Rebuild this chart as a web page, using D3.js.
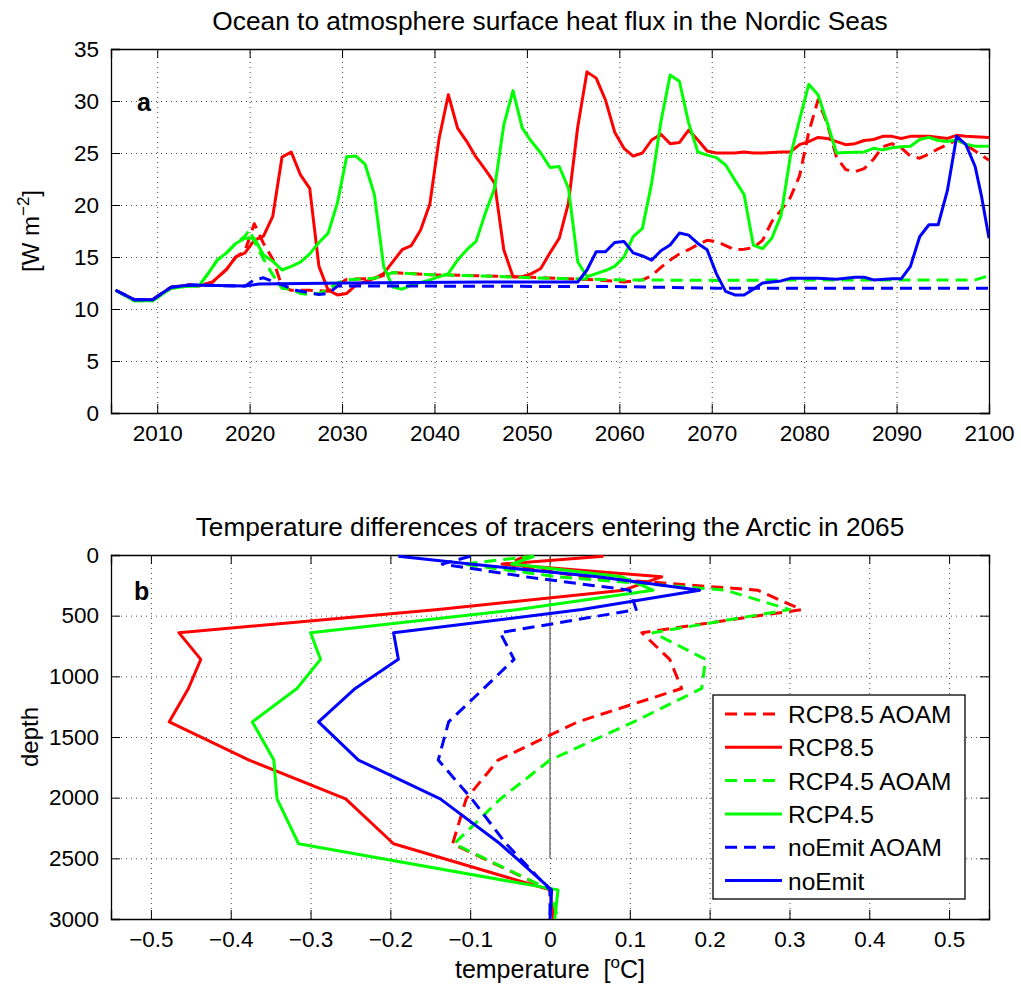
<!DOCTYPE html>
<html>
<head>
<meta charset="utf-8">
<script src="https://cdn.jsdelivr.net/npm/d3@7"></script>
<style>
    body { margin: 0; background: #fff; }
    svg text { font-family: "Liberation Sans", Arial, Helvetica, sans-serif; fill: #000; }
</style>
</head>
<body>
<svg id="paper"></svg>
<script>
// panel a: surface heat flux [year, W m-2]
var rcp85AoamFlux = [[2005.5, 11.8], [2007.5, 10.9], [2009.5, 10.9], [2011.5, 12.1], [2013.5, 12.3], [2014.5, 12.2], [2016, 12.6], [2017.5, 13.8], [2018.5, 15.0], [2019.5, 15.6], [2020.5, 18.2], [2021.5, 16.3], [2022.5, 14.8], [2023.5, 12.2], [2024.5, 11.8], [2026.5, 11.8], [2028.5, 11.7], [2029.5, 12.3], [2030.5, 12.85], [2033.5, 12.95], [2035.5, 13.5], [2039.5, 13.3], [2044.5, 13.2], [2050.5, 13.05], [2053.5, 12.95], [2057.5, 12.8], [2060.5, 12.6], [2062.5, 12.8], [2063.5, 13.2], [2064.5, 14.0], [2065.5, 14.7], [2066.5, 15.3], [2067.5, 15.7], [2068.5, 16.2], [2069.5, 16.6], [2070.5, 16.5], [2071.5, 16.1], [2072.5, 15.7], [2073.5, 15.75], [2074.5, 15.9], [2075.5, 16.6], [2076.5, 18.4], [2077.5, 19.5], [2078.5, 20.7], [2079.5, 22.8], [2080.5, 27.0], [2081.5, 30.1], [2082.5, 27.8], [2083.5, 24.6], [2084.5, 23.4], [2085.5, 23.2], [2086.5, 23.5], [2087.5, 24.4], [2088.5, 25.6], [2089.5, 25.9], [2090.5, 25.5], [2091.5, 24.7], [2092.5, 24.5], [2093.5, 24.9], [2094.5, 25.4], [2095.5, 25.8], [2096.5, 26.25], [2097.5, 25.8], [2098.5, 25.2], [2100, 24.3]];
var rcp85Flux = [[2005.5, 11.8], [2007.5, 10.9], [2009.5, 10.9], [2011.5, 12.1], [2013.5, 12.3], [2014.5, 12.2], [2016, 12.6], [2017.5, 13.8], [2018.5, 15.0], [2019.5, 15.4], [2020.5, 16.6], [2021.5, 17.0], [2022.5, 18.9], [2023.5, 24.6], [2024.5, 25.1], [2025.5, 22.9], [2026.5, 21.6], [2027.5, 14.1], [2028.5, 11.8], [2029.5, 11.35], [2030.5, 11.5], [2031.5, 12.3], [2033.5, 12.95], [2034.5, 13.4], [2036.5, 15.7], [2037.5, 16.1], [2038.5, 17.6], [2039.5, 20.1], [2040.5, 26.4], [2041.5, 30.6], [2042.5, 27.4], [2043.5, 26.1], [2044.5, 24.6], [2045.5, 23.4], [2046.5, 22.1], [2047.5, 15.7], [2048.5, 13.1], [2049.5, 13.1], [2050.5, 13.4], [2051.5, 13.9], [2052.5, 15.4], [2053.5, 16.8], [2054.5, 20.2], [2055.5, 27.5], [2056.5, 32.8], [2057.5, 32.2], [2058.5, 30.1], [2059.5, 27.0], [2060.5, 25.45], [2061.5, 24.7], [2062.5, 25.0], [2063.5, 26.25], [2064.5, 26.8], [2065.5, 25.9], [2066.5, 26.0], [2067.5, 27.2], [2068.5, 26.25], [2069.5, 25.2], [2070.5, 25.0], [2072.5, 25.0], [2073.5, 25.1], [2074.5, 25.0], [2075.5, 25.0], [2077.5, 25.1], [2078.5, 25.1], [2079.5, 25.8], [2080.5, 26.1], [2081.5, 26.5], [2082.5, 26.4], [2083.5, 26.1], [2084.5, 25.8], [2085.5, 25.9], [2086.5, 26.2], [2087.5, 26.3], [2088.5, 26.6], [2089.5, 26.6], [2090.5, 26.4], [2091.5, 26.6], [2093.5, 26.6], [2095.5, 26.4], [2096.5, 26.7], [2097.5, 26.6], [2100, 26.5]];
var rcp45AoamFlux = [[2005.5, 11.8], [2007.5, 10.8], [2009.5, 10.8], [2011.5, 12.0], [2013.5, 12.2], [2014.5, 12.2], [2015.5, 13.4], [2016.5, 14.7], [2017.5, 15.4], [2018.5, 16.3], [2019.5, 17.0], [2020, 17.6], [2020.5, 16.5], [2021.5, 14.8], [2022.5, 13.3], [2023.5, 12.0], [2024.5, 11.9], [2025.5, 11.5], [2026.5, 11.4], [2027.5, 11.5], [2028.5, 11.9], [2029.5, 12.5], [2030.5, 12.8], [2033.5, 12.95], [2035.5, 13.5], [2039.5, 13.3], [2044.5, 13.2], [2050.5, 13.0], [2055.5, 12.9], [2060.5, 12.8], [2070.5, 12.75], [2080.5, 12.8], [2090.5, 12.8], [2098.5, 12.8], [2100, 13.2]];
var rcp45Flux = [[2005.5, 11.8], [2007.5, 10.8], [2009.5, 10.8], [2011.5, 12.0], [2013.5, 12.2], [2014.5, 12.2], [2015.5, 13.4], [2016.5, 14.7], [2017.5, 15.4], [2018.5, 16.3], [2019.5, 16.8], [2020.5, 16.8], [2021.5, 15.2], [2022.5, 14.6], [2023.5, 13.75], [2024.5, 14.1], [2025.5, 14.5], [2026.5, 15.3], [2027.5, 16.4], [2028.5, 17.3], [2029.5, 20.2], [2030.5, 24.65], [2031.5, 24.7], [2032.5, 23.9], [2033.5, 21.0], [2034.5, 14.1], [2035.5, 12.1], [2036.5, 11.9], [2037.5, 12.3], [2039.5, 12.8], [2041.5, 13.4], [2042.5, 14.7], [2043.5, 15.7], [2044.5, 16.5], [2045.5, 19.2], [2046.5, 21.6], [2047.5, 27.7], [2048.5, 31.0], [2049.5, 27.4], [2050.5, 26.1], [2051.5, 25.0], [2052.5, 23.6], [2053.5, 23.7], [2054.5, 21.6], [2055.5, 14.55], [2056.5, 13.1], [2057.5, 13.4], [2058.5, 13.7], [2059.5, 14.1], [2060.5, 15.0], [2061.5, 16.95], [2062.5, 17.75], [2063.5, 22.1], [2064.5, 28.0], [2065.5, 32.5], [2066.5, 31.9], [2067.5, 27.9], [2068.5, 25.1], [2069.5, 24.8], [2070.5, 24.55], [2071.5, 23.85], [2072.5, 22.4], [2073.5, 21.0], [2074.5, 16.15], [2075.5, 15.8], [2076.5, 16.8], [2077.5, 19.0], [2078.5, 24.65], [2079.5, 28.2], [2080.5, 31.6], [2081.5, 30.6], [2082.5, 27.9], [2083.5, 25.0], [2084.5, 25.05], [2086.5, 25.1], [2087.5, 25.45], [2088.5, 25.3], [2089.5, 25.5], [2090.5, 25.6], [2091.5, 25.65], [2092.5, 26.3], [2093.5, 26.5], [2094.5, 26.2], [2095.5, 26.1], [2096.5, 26.25], [2097.5, 25.85], [2098.5, 25.65], [2100, 25.65]];
var noEmitAoamFlux = [[2005.5, 11.8], [2007.5, 10.9], [2009.5, 10.9], [2011.5, 12.1], [2013.5, 12.3], [2014.5, 12.3], [2019.5, 12.2], [2020.5, 12.8], [2021.5, 13.0], [2023, 12.5], [2025, 11.8], [2027.5, 11.4], [2028.5, 11.5], [2029.5, 12.2], [2040.5, 12.2], [2060.5, 12.15], [2070.5, 12.0], [2100, 12.0]];
var noEmitFlux = [[2005.5, 11.8], [2007.5, 10.9], [2009.5, 10.9], [2011.5, 12.1], [2013.5, 12.3], [2019.5, 12.2], [2021, 12.4], [2030.5, 12.5], [2045.5, 12.6], [2055.5, 12.6], [2056.5, 13.75], [2057.5, 15.5], [2058.5, 15.5], [2059.5, 16.4], [2060.5, 16.5], [2061.5, 15.4], [2062.5, 15.1], [2063.5, 14.7], [2064.5, 15.6], [2065.5, 16.15], [2066.5, 17.3], [2067.5, 17.1], [2068.5, 16.3], [2069.5, 15.7], [2070.5, 13.4], [2071.5, 11.7], [2072.5, 11.35], [2073.5, 11.35], [2074.5, 11.9], [2075.5, 12.5], [2077.5, 12.7], [2078.5, 12.95], [2081.5, 12.95], [2083.5, 12.85], [2085.5, 13.05], [2086.5, 13.05], [2087.5, 12.8], [2089.5, 12.9], [2090.5, 12.9], [2091.5, 14.1], [2092.5, 16.95], [2093.5, 18.1], [2094.5, 18.1], [2095.5, 21.4], [2096.5, 26.6], [2097.5, 25.8], [2098.5, 23.7], [2099.2, 20.8], [2100, 16.8]];

// panel b: temperature difference profiles [degC] at these depths [m]
var depthLevels = [10, 75, 180, 290, 450, 640, 860, 1100, 1375, 1690, 2010, 2380, 2760, 3000];
var rcp85AoamTemp = [-0.03, -0.055, 0.04, 0.26, 0.315, 0.115, 0.15, 0.165, 0.035, -0.065, -0.105, -0.122, 0.0, 0.004];
var rcp85Temp = [0.067, -0.06, 0.14, 0.092, -0.14, -0.465, -0.4375, -0.453, -0.477, -0.377, -0.256, -0.196, 0.0, 0.004];
var rcp45AoamTemp = [-0.02, -0.11, 0.01, 0.22, 0.3, 0.129, 0.195, 0.19, 0.105, 0.0, -0.062, -0.12, 0.0, 0.01];
var rcp45Temp = [-0.02, -0.048, 0.09, 0.129, -0.04, -0.3, -0.2875, -0.317, -0.373, -0.346, -0.342, -0.315, 0.01, 0.006];
var noEmitAoamTemp = [-0.1, -0.135, -0.03, 0.1, 0.108, -0.0625, -0.045, -0.083, -0.127, -0.14, -0.098, -0.055, 0.0, 0.0];
var noEmitTemp = [-0.19, -0.1, 0.06, 0.1875, 0.04, -0.196, -0.19, -0.244, -0.29, -0.24, -0.1375, -0.0625, 0.002, 0.0];

var seriesNames = ["RCP8.5 AOAM", "RCP8.5", "RCP4.5 AOAM", "RCP4.5", "noEmit AOAM", "noEmit"];
var yearTicks = [2010, 2020, 2030, 2040, 2050, 2060, 2070, 2080, 2090, 2100];
var fluxTicks = [0, 5, 10, 15, 20, 25, 30, 35];
var tempTicks = [-0.5, -0.4, -0.3, -0.2, -0.1, 0, 0.1, 0.2, 0.3, 0.4, 0.5];
var depthTicks = [0, 500, 1000, 1500, 2000, 2500, 3000];

(function () {
    var width = 1021,
        height = 992;

    var svg = d3.select('#paper')
        .attr('width', width)
        .attr('height', height);

    var colors = ["#ff0000", "#ff0000", "#00ff00", "#00ff00", "#0000ff", "#0000ff"];
    var dashed = [true, false, true, false, true, false];
    var dash = "12,7";
    var tickFont = 22.5;

    // frame with dotted grid, inward ticks on all four sides
    function frame(x, y, xTicks, yTicks, xFmt, yFmt) {
        var x0 = x.range()[0], x1 = x.range()[1],
            yTop = d3.min(y.range()), yBot = d3.max(y.range());
        var g = svg.append("g");

        g.append("g")
            .attr("transform", "translate(0," + yBot + ")")
            .call(d3.axisBottom(x).tickValues(xTicks).tickSize(-(yBot - yTop)).tickFormat(""))
            .call(function (a) { a.select(".domain").remove(); })
            .selectAll("line").attr("stroke", "#444").attr("stroke-dasharray", "1,4");
        g.append("g")
            .attr("transform", "translate(" + x0 + ",0)")
            .call(d3.axisLeft(y).tickValues(yTicks).tickSize(-(x1 - x0)).tickFormat(""))
            .call(function (a) { a.select(".domain").remove(); })
            .selectAll("line").attr("stroke", "#444").attr("stroke-dasharray", "1,4");

        g.append("g")
            .attr("transform", "translate(0," + yBot + ")")
            .call(d3.axisBottom(x).tickValues(xTicks).tickSize(-9).tickPadding(12).tickFormat(xFmt));
        g.append("g")
            .attr("transform", "translate(0," + yTop + ")")
            .call(d3.axisTop(x).tickValues(xTicks).tickSize(-9).tickFormat(""));
        g.append("g")
            .attr("transform", "translate(" + x0 + ",0)")
            .call(d3.axisLeft(y).tickValues(yTicks).tickSize(-9).tickPadding(12).tickFormat(yFmt));
        g.append("g")
            .attr("transform", "translate(" + x1 + ",0)")
            .call(d3.axisRight(y).tickValues(yTicks).tickSize(-9).tickFormat(""));

        g.selectAll(".domain").attr("stroke", "#000").attr("stroke-width", 1.3);
        g.selectAll(".tick text").attr("font-size", tickFont).attr("fill", "#000")
            .attr("font-family", "'Liberation Sans', Arial, sans-serif");
        return g;
    }

    // ---- panel a ----
    var xa = d3.scaleLinear().domain([2005, 2100]).range([111, 989]);
    var ya = d3.scaleLinear().domain([0, 35]).range([413, 49]);
    frame(xa, ya, yearTicks, fluxTicks, d3.format("d"), d3.format("d"));

    svg.append("defs").append("clipPath").attr("id", "clipA")
        .append("rect").attr("x", 111).attr("y", 49).attr("width", 878).attr("height", 364);

    var fluxSeries = [rcp85AoamFlux, rcp85Flux, rcp45AoamFlux, rcp45Flux, noEmitAoamFlux, noEmitFlux];
    var lineA = d3.line()
        .x(function (d) { return xa(d[0]); })
        .y(function (d) { return ya(d[1]); });

    svg.append("g").attr("clip-path", "url(#clipA)")
        .selectAll("path")
        .data(fluxSeries)
        .enter().append("path")
        .attr("d", lineA)
        .attr("fill", "none")
        .attr("stroke", function (d, i) { return colors[i]; })
        .attr("stroke-width", 3)
        .attr("stroke-linejoin", "round")
        .attr("stroke-dasharray", function (d, i) { return dashed[i] ? dash : null; });

    svg.append("text").attr("x", 550).attr("y", 30).attr("text-anchor", "middle")
        .attr("font-size", 26.3).text("Ocean to atmosphere surface heat flux in the Nordic Seas");
    svg.append("text").attr("x", 137).attr("y", 111).attr("font-size", 25)
        .attr("font-weight", "bold").text("a");

    var ylabA = svg.append("text").attr("transform", "translate(39,231) rotate(-90)")
        .attr("text-anchor", "middle").attr("font-size", 24);
    ylabA.append("tspan").text("[W m");
    ylabA.append("tspan").attr("dy", -10).attr("font-size", 17).text("\u22122");
    ylabA.append("tspan").attr("dy", 10).text("]");

    // ---- panel b ----
    var xb = d3.scaleLinear().domain([-0.55, 0.55]).range([111, 989]);
    var yb = d3.scaleLinear().domain([0, 3000]).range([555, 919]);
    frame(xb, yb, tempTicks, depthTicks,
        function (d) { return d === 0 ? "0" : d3.format(".1f")(d); }, d3.format("d"));

    svg.append("line")
        .attr("x1", xb(0)).attr("x2", xb(0))
        .attr("y1", yb(0)).attr("y2", yb(2500))
        .attr("stroke", "#666").attr("stroke-width", 1.3);

    var tempSeries = [rcp85AoamTemp, rcp85Temp, rcp45AoamTemp, rcp45Temp, noEmitAoamTemp, noEmitTemp];
    var lineB = d3.line()
        .x(function (d) { return xb(d); })
        .y(function (d, i) { return yb(depthLevels[i]); });

    svg.append("g")
        .selectAll("path")
        .data(tempSeries)
        .enter().append("path")
        .attr("d", lineB)
        .attr("fill", "none")
        .attr("stroke", function (d, i) { return colors[i]; })
        .attr("stroke-width", 3)
        .attr("stroke-linejoin", "round")
        .attr("stroke-dasharray", function (d, i) { return dashed[i] ? dash : null; });

    svg.append("text").attr("x", 550).attr("y", 536).attr("text-anchor", "middle")
        .attr("font-size", 26.2).text("Temperature differences of tracers entering the Arctic in 2065");
    svg.append("text").attr("x", 134).attr("y", 600).attr("font-size", 25)
        .attr("font-weight", "bold").text("b");

    svg.append("text").attr("transform", "translate(38,737) rotate(-90)")
        .attr("text-anchor", "middle").attr("font-size", 24).text("depth");

    var xlabB = svg.append("text").attr("x", 550).attr("y", 978)
        .attr("text-anchor", "middle").attr("font-size", 25)
        .style("white-space", "pre");
    xlabB.append("tspan").text("temperature  [");
    xlabB.append("tspan").attr("dy", -10).attr("font-size", 17).text("o");
    xlabB.append("tspan").attr("dy", 10).text("C]");

    // legend
    var legend = svg.append("g").attr("transform", "translate(713,695)");
    legend.append("rect").attr("width", 252).attr("height", 204)
        .attr("fill", "#fff").attr("stroke", "#000").attr("stroke-width", 1.3);
    var item = legend.selectAll("g.item")
        .data(seriesNames)
        .enter().append("g")
        .attr("class", "item")
        .attr("transform", function (d, i) { return "translate(0," + (19 + i * 33.3) + ")"; });
    item.append("line")
        .attr("x1", 12).attr("x2", 69)
        .attr("stroke", function (d, i) { return colors[i]; })
        .attr("stroke-width", 3)
        .attr("stroke-dasharray", function (d, i) { return dashed[i] ? dash : null; });
    item.append("text")
        .attr("x", 75).attr("y", 9)
        .attr("font-size", 24.5)
        .text(function (d) { return d; });
})();
</script>
</body>
</html>
